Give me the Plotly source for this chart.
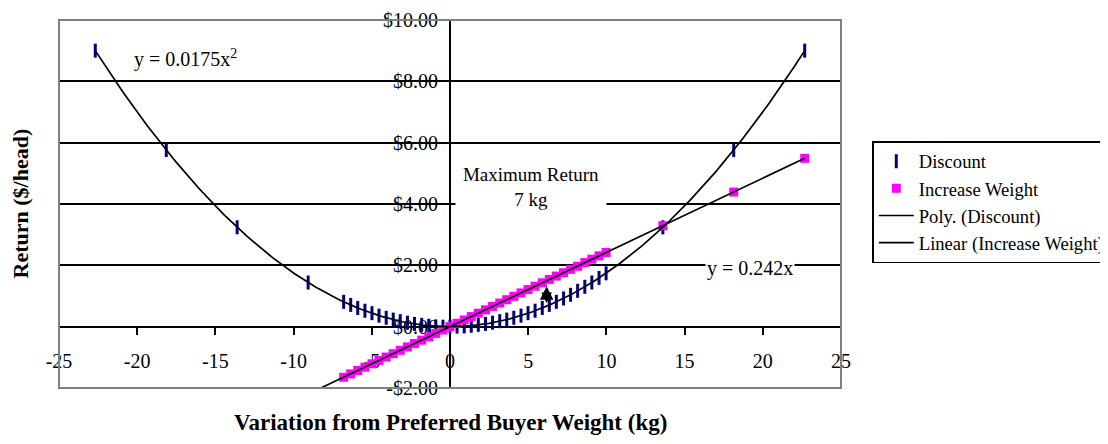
import numpy as np
import plotly.graph_objects as go

# ---------------- data ----------------
discount_x = [-22.68, -18.14, -13.61, -9.07,
              -6.80, -6.35, -5.90, -5.44, -4.99, -4.54, -4.08, -3.63, -3.18, -2.72,
              -2.27, -1.81, -1.36, -0.91, -0.45, 0.00, 0.45, 0.91, 1.36, 1.81,
              2.27, 2.72, 3.18, 3.63, 4.08, 4.54, 4.99, 5.44, 5.90, 6.35,
              6.80, 7.26, 7.71, 8.16, 8.62, 9.07, 9.53, 9.98,
              13.61, 18.14, 22.68]
discount_y = [9.00, 5.76, 3.24, 1.44,
              0.81, 0.71, 0.61, 0.52, 0.44, 0.36, 0.29, 0.23, 0.18, 0.13,
              0.09, 0.06, 0.03, 0.01, 0.00, 0.00, 0.00, 0.01, 0.03, 0.06,
              0.09, 0.13, 0.18, 0.23, 0.29, 0.36, 0.44, 0.52, 0.61, 0.71,
              0.81, 0.92, 1.04, 1.17, 1.30, 1.44, 1.59, 1.74,
              3.24, 5.76, 9.00]

increase_x = [-22.68, -18.14, -13.61, -9.07,
              -6.80, -6.35, -5.90, -5.44, -4.99, -4.54, -4.08, -3.63, -3.18, -2.72,
              -2.27, -1.81, -1.36, -0.91, -0.45, 0.00, 0.45, 0.91, 1.36, 1.81,
              2.27, 2.72, 3.18, 3.63, 4.08, 4.54, 4.99, 5.44, 5.90, 6.35,
              6.80, 7.26, 7.71, 8.16, 8.62, 9.07, 9.53, 9.98,
              13.61, 18.14, 22.68]
increase_y = [-5.49, -4.39, -3.29, -2.20,
              -1.65, -1.54, -1.43, -1.32, -1.21, -1.10, -0.99, -0.88, -0.77, -0.66,
              -0.55, -0.44, -0.33, -0.22, -0.11, 0.00, 0.11, 0.22, 0.33, 0.44,
              0.55, 0.66, 0.77, 0.88, 0.99, 1.10, 1.21, 1.32, 1.43, 1.54,
              1.65, 1.76, 1.87, 1.97, 2.09, 2.20, 2.31, 2.42,
              3.29, 4.39, 5.49]

x_ticks = [-25, -20, -15, -10, -5, 0, 5, 10, 15, 20, 25]
y_ticks = [-2, 0, 2, 4, 6, 8, 10]
y_tick_labels = ["-$2.00", "$0.00", "$2.00", "$4.00", "$6.00", "$8.00", "$10.00"]

max_return_x = 6.18          # arrow position (kg)
max_return_top = 1.32
max_return_bottom = 0.72

# ---------------- trendlines (least squares through origin) ----------------
dx = np.array(discount_x); dy = np.array(discount_y)
ix = np.array(increase_x); iy = np.array(increase_y)
a_quad = float(np.sum(dx**2 * dy) / np.sum(dx**4))
a_lin = float(np.sum(ix * iy) / np.sum(ix**2))
poly_x = np.linspace(dx.min(), dx.max(), 300)
poly_y = a_quad * poly_x**2
lin_x = np.array([ix.min(), ix.max()])
lin_y = a_lin * lin_x

FONT = "Liberation Serif, Times New Roman, serif"

fig = go.Figure()
fig.add_trace(go.Scatter(
    x=discount_x, y=discount_y, mode="markers", name="Discount",
    marker=dict(symbol="line-ns", size=10, color="#000080",
                line=dict(color="#000080", width=3)),
    legendgroup="a"))
fig.add_trace(go.Scatter(
    x=increase_x, y=increase_y, mode="markers", name="Increase Weight",
    marker=dict(symbol="square", size=9, color="#FF00FF", line=dict(width=0)),
    legendgroup="b"))
fig.add_trace(go.Scatter(
    x=poly_x, y=poly_y, mode="lines", name="Poly. (Discount)",
    line=dict(color="black", width=1.7), legendgroup="c"))
fig.add_trace(go.Scatter(
    x=lin_x, y=lin_y, mode="lines", name="Linear (Increase Weight)",
    line=dict(color="black", width=1.7), legendgroup="d"))

fig.update_layout(
    width=1100, height=436,
    margin=dict(l=51, r=267, t=12, b=56, autoexpand=False),
    paper_bgcolor="white", plot_bgcolor="white",
    font=dict(family=FONT, size=20, color="black"),
    showlegend=True,
    legend=dict(x=1.04, y=0.671, xanchor="left", yanchor="top",
                bordercolor="black", borderwidth=1.5, bgcolor="white",
                font=dict(family=FONT, size=18.6), tracegroupgap=0,
                itemwidth=35),
    xaxis=dict(range=[-25, 25], tickvals=x_ticks, ticktext=[str(v) for v in x_ticks],
               anchor="free", position=1/6, showgrid=False, zeroline=False,
               showline=True, linecolor="black", linewidth=2, automargin=False,
               ticks="outside", ticklen=7, tickwidth=2, tickcolor="black",
               ticklabelstandoff=9, layer="below traces",
               tickfont=dict(family=FONT, size=20)),
    yaxis=dict(range=[-2, 10], tickvals=y_ticks, ticktext=y_tick_labels,
               anchor="free", position=0.5, showgrid=True, gridcolor="black",
               gridwidth=2, zeroline=False, showline=True, linecolor="black",
               linewidth=2, ticks="outside", ticklen=5, tickwidth=2, automargin=False,
               tickcolor="black", ticklabelstandoff=2, layer="below traces",
               tickfont=dict(family=FONT, size=20)),
)

# plot-area border (grey)
fig.add_shape(type="rect", xref="paper", yref="paper", x0=0, x1=1, y0=0, y1=1,
              line=dict(color="#808080", width=2), layer="above")

# axis titles
fig.add_annotation(text="<b>Variation from Preferred Buyer Weight (kg)</b>",
                   xref="paper", yref="paper", x=0.5, y=-0.095,
                   xanchor="center", yanchor="middle",
                   showarrow=False, font=dict(family=FONT, size=23))
fig.add_annotation(text="<b>Return ($/head)</b>", xref="paper", yref="paper",
                   x=-0.0505, y=0.5, xanchor="center", yanchor="middle",
                   textangle=-90, showarrow=False, borderpad=0,
                   font=dict(family=FONT, size=22))

# trendline equations
fig.add_annotation(text="y = 0.0175x<sup>2</sup>", x=-16.9, y=8.75, showarrow=False,
                   font=dict(family=FONT, size=20))
fig.add_annotation(text="y = 0.242x", x=19.2, y=1.9, showarrow=False,
                   bgcolor="white", font=dict(family=FONT, size=20))

# Maximum return text box
fig.add_annotation(text="Maximum Return<br>7 kg", x=5.2, y=4.55, showarrow=False,
                   bgcolor="white", borderpad=4, width=142,
                   font=dict(family=FONT, size=19))

# double-headed arrow
fig.add_annotation(x=max_return_x, y=max_return_top, ax=max_return_x, ay=max_return_bottom,
                   xref="x", yref="y", axref="x", ayref="y", text="",
                   showarrow=True, arrowside="end+start", arrowhead=2, startarrowhead=2,
                   arrowsize=1.8, startarrowsize=1.4, arrowwidth=1.5, arrowcolor="black",
                   standoff=0, startstandoff=0)

fig.write_html("out.html")
